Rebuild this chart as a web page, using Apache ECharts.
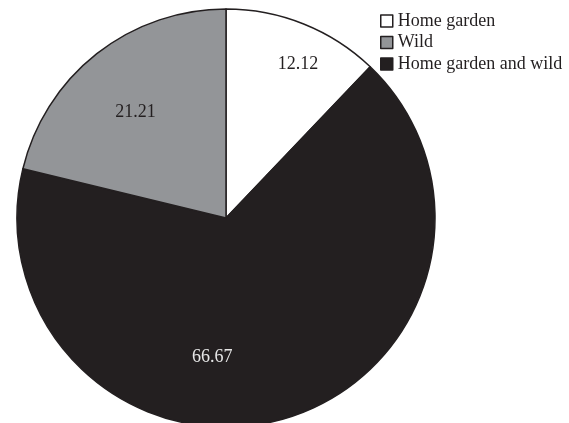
<!DOCTYPE html>
<html>
<head>
<meta charset="utf-8">
<script src="https://cdn.jsdelivr.net/npm/echarts@6/dist/echarts.min.js"></script>
<style>
html,body{margin:0;padding:0;background:#fff;}
#chart{width:569px;height:423px;}
</style>
</head>
<body>
<div id="chart"></div>
<script>
var categories = ['Home garden', 'Home garden and wild', 'Wild'];
var values = [12.12, 66.67, 21.21];
var legendOrder = ['Home garden', 'Wild', 'Home garden and wild'];
var colors = {'Home garden': '#ffffff', 'Wild': '#939598', 'Home garden and wild': '#231f20'};
var labelColors = {'Home garden': '#231f20', 'Wild': '#231f20', 'Home garden and wild': '#e6e6e6'};
var labelShift = {'Home garden': [32, -54], 'Home garden and wild': [-44, 36], 'Wild': [-24, -21]};

var chart = echarts.init(document.getElementById('chart'), null, {renderer: 'canvas'});
var seriesData = categories.map(function (c, i) {
  return {
    name: c,
    value: values[i],
    itemStyle: {color: colors[c]},
    label: {color: labelColors[c]}
  };
});
chart.setOption({
  animation: false,
  backgroundColor: '#ffffff',
  legend: {
    data: legendOrder,
    orient: 'vertical',
    left: 380,
    top: 12,
    padding: 0,
    itemWidth: 12,
    itemHeight: 12,
    itemGap: 3.5,
    icon: 'rect',
    itemStyle: {borderColor: '#231f20', borderWidth: 1.5},
    textStyle: {fontFamily: 'Liberation Serif', fontSize: 18, color: '#231f20', lineHeight: 18}
  },
  series: [{
    type: 'pie',
    center: [226, 218],
    radius: 209,
    startAngle: 90,
    clockwise: true,
    data: seriesData,
    itemStyle: {borderColor: '#231f20', borderWidth: 1.5},
    label: {
      show: true,
      position: 'inside',
      formatter: function (p) { return p.value.toFixed(2); },
      fontFamily: 'Liberation Serif',
      fontSize: 18
    },
    labelLine: {show: false},
    labelLayout: function (p) {
      var s = labelShift[categories[p.dataIndex]];
      return {dx: s[0], dy: s[1]};
    },
    emphasis: {disabled: true}
  }]
});
</script>
</body>
</html>
